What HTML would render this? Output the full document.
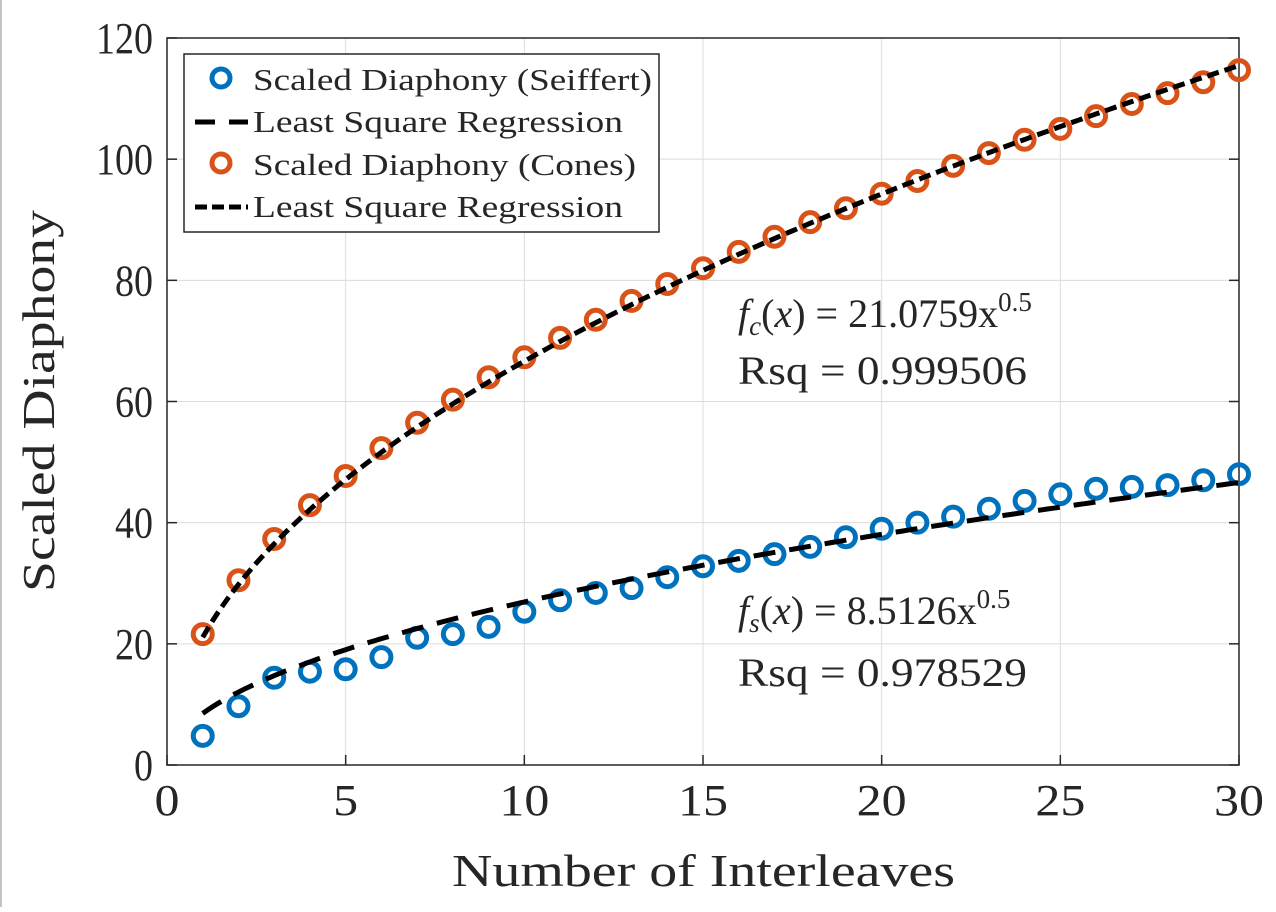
<!DOCTYPE html>
<html><head><meta charset="utf-8"><style>
body{margin:0;background:#fff;}
svg text{font-family:"Liberation Serif","DejaVu Serif",serif;fill:#262626;}
</style></head><body>
<svg id="chart" width="1276" height="907" xmlns="http://www.w3.org/2000/svg" font-family="Liberation Serif, DejaVu Serif, serif">
<line x1="1" y1="0" x2="1" y2="907" stroke="#888" stroke-width="1"/>
<g id="grid"></g>
<g id="axes"></g>
<g id="marks"></g>
<text x="452" y="886" font-size="46" textLength="503" lengthAdjust="spacingAndGlyphs">Number of Interleaves</text>
<text transform="translate(54,592) rotate(-90)" font-size="46" textLength="382" lengthAdjust="spacingAndGlyphs">Scaled Diaphony</text>
<text x="738" y="327" font-size="40"><tspan font-style="italic">f</tspan><tspan font-style="italic" font-size="27" dy="8">c</tspan><tspan dy="-8">(</tspan><tspan font-style="italic">x</tspan><tspan>) = 21.0759x</tspan><tspan font-size="27" dy="-16">0.5</tspan></text>
<text x="738" y="384" font-size="40" textLength="289" lengthAdjust="spacingAndGlyphs">Rsq = 0.999506</text>
<text x="738" y="624" font-size="40"><tspan font-style="italic">f</tspan><tspan font-style="italic" font-size="27" dy="8">s</tspan><tspan dy="-8">(</tspan><tspan font-style="italic">x</tspan><tspan>) = 8.5126x</tspan><tspan font-size="27" dy="-16">0.5</tspan></text>
<text x="738" y="686" font-size="40" textLength="289" lengthAdjust="spacingAndGlyphs">Rsq = 0.978529</text>
<g>
<rect x="184" y="54" width="475" height="178" fill="#fff" stroke="#262626" stroke-width="1.5"/>
<circle cx="221" cy="78" r="9" fill="none" stroke="#0072BD" stroke-width="5"/>
<text x="253" y="90" font-size="31" textLength="399" lengthAdjust="spacingAndGlyphs">Scaled Diaphony (Seiffert)</text>
<line x1="195" y1="122" x2="248" y2="122" stroke="#000" stroke-width="5" stroke-dasharray="20,14"/>
<text x="253" y="132" font-size="31" textLength="370" lengthAdjust="spacingAndGlyphs">Least Square Regression</text>
<circle cx="221" cy="163" r="9" fill="none" stroke="#D95319" stroke-width="5"/>
<text x="253" y="175" font-size="31" textLength="383" lengthAdjust="spacingAndGlyphs">Scaled Diaphony (Cones)</text>
<line x1="195" y1="207" x2="248" y2="207" stroke="#000" stroke-width="5" stroke-dasharray="12,5"/>
<text x="253" y="217" font-size="31" textLength="370" lengthAdjust="spacingAndGlyphs">Least Square Regression</text>
</g>
</svg>
<script>
const xValues=[1,2,3,4,5,6,7,8,9,10,11,12,13,14,15,16,17,18,19,20,21,22,23,24,25,26,27,28,29,30];
const seiffert=[4.8,9.7,14.4,15.4,15.8,17.8,21,21.6,22.8,25.3,27.2,28.4,29.2,31,32.8,33.7,34.8,36,37.6,39,40,41,42.3,43.6,44.7,45.6,45.9,46.2,47,48];
const cones=[21.6,30.5,37.3,42.9,47.7,52.3,56.5,60.3,64,67.3,70.5,73.5,76.6,79.4,82,84.7,87.2,89.6,91.9,94.3,96.4,98.9,101,103.2,105,107.1,109.1,110.9,112.7,114.7];
const fitCoef=[8.5126,21.0759];
const fitExp=[0.5,0.5];
const xTicks=[0,5,10,15,20,25,30];
const yTicks=[0,20,40,60,80,100,120];
const NS="http://www.w3.org/2000/svg";
const L=167,R=1239,T=38,B=765;
const sx=v=>L+(v-0)/(30-0)*(R-L);
const sy=v=>B-(v-0)/(120-0)*(B-T);
function mk(tag,attrs,parent){const e=document.createElementNS(NS,tag);for(const k in attrs)e.setAttribute(k,attrs[k]);document.getElementById(parent).appendChild(e);return e;}
xTicks.forEach(t=>{
 const g=mk('line',{x1:sx(t),x2:sx(t),y1:T,y2:B,stroke:'#dcdcdc','stroke-width':1},'grid');
 
 
 const tk=mk('line',{x1:sx(t),x2:sx(t),y1:B,y2:B-10,stroke:'#262626','stroke-width':1.5},'axes');
 
 
 const s=String(t);
 const tx=mk('text',{x:sx(t),y:B+50,'font-size':44,'text-anchor':'middle',textLength:s.length*25,lengthAdjust:'spacingAndGlyphs'},'axes');
 tx.textContent=s;
 
 
});
yTicks.forEach(t=>{
 const g=mk('line',{x1:L,x2:R,y1:sy(t),y2:sy(t),stroke:'#dcdcdc','stroke-width':1},'grid');
 
 
 const tk=mk('line',{x1:L,x2:L+10,y1:sy(t),y2:sy(t),stroke:'#262626','stroke-width':1.5},'axes');
 
 
 const tk2=mk('line',{x1:R,x2:R-10,y1:sy(t),y2:sy(t),stroke:'#262626','stroke-width':1.5},'axes');
 
 
 const s=String(t);
 const tx=mk('text',{x:L-14,y:sy(t)+15,'font-size':44,'text-anchor':'end',textLength:s.length*19,lengthAdjust:'spacingAndGlyphs'},'axes');
 tx.textContent=s;
 
 
});
const box=mk('rect',{x:L,y:T,width:R-L,height:B-T,fill:'none',stroke:'#262626','stroke-width':1.5},'axes');


const series=[[seiffert,'#0072BD','seiffert'],[cones,'#D95319','cones']];
const dashes=['22,14','12,6'];
series.forEach((s,i)=>{
 s[0].forEach((v,j)=>{
  const c=mk('circle',{cx:sx(xValues[j]),cy:sy(v),r:9.5,fill:'none',stroke:s[1],'stroke-width':5},'marks');
  
  
 });
});
series.forEach((s,i)=>{
 let d='';
 for(let k=0;k<=200;k++){const x=1+29*k/200;const y=fitCoef[i]*Math.pow(x,fitExp[i]);d+=(k?'L':'M')+sx(x).toFixed(1)+','+sy(y).toFixed(1);}
 const p=mk('path',{d:d,fill:'none',stroke:'#000','stroke-width':5,'stroke-dasharray':dashes[i]},'marks');
 
 
});
</script>
</body></html>
